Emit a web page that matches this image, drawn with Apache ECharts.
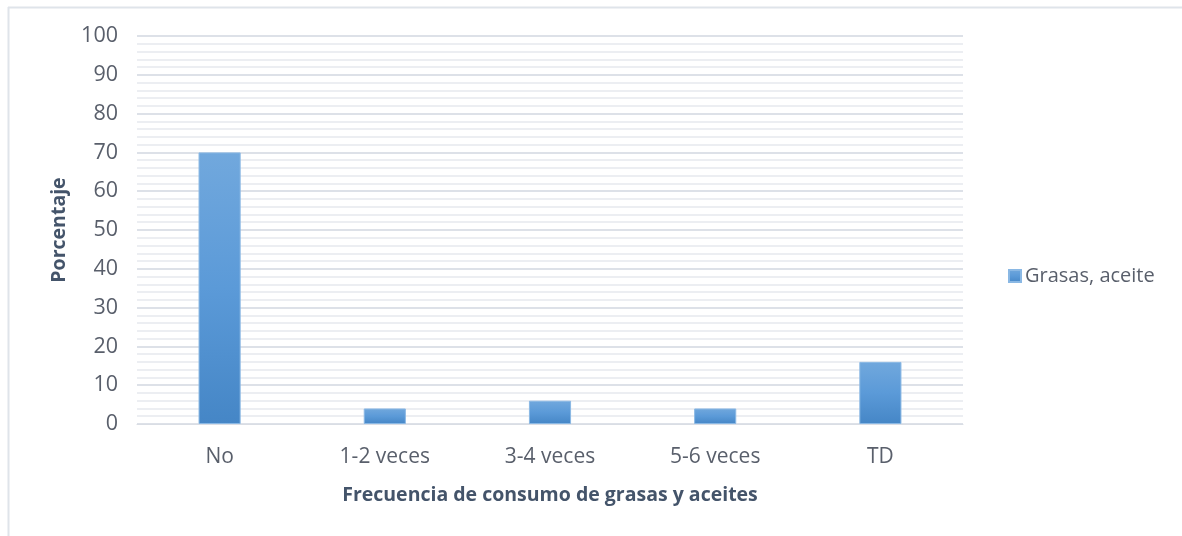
<!DOCTYPE html>
<html>
<head>
<meta charset="utf-8">
<script src="https://cdn.jsdelivr.net/npm/echarts@6/dist/echarts.min.js"></script>
<style>
  html, body { margin: 0; padding: 0; background: #ffffff; }
  #chart { width: 1182px; height: 536px; }
</style>
</head>
<body>
<div id="chart"></div>
<script>
// Frecuencia de consumo de grasas y aceites (porcentaje)
const categories = ['No', '1-2 veces', '3-4 veces', '5-6 veces', 'TD'];
const seriesName = 'Grasas, aceite';
const values = [70, 4, 6, 4, 16];
const yMin = 0, yMax = 100, yStep = 10;

const chart = echarts.init(document.getElementById('chart'), null, { renderer: 'canvas' });
const FONT = '"Open Sans", "Noto Sans", sans-serif';
const TEXT = '#595f6b';
const TITLE = '#44546a';

chart.setOption({
  animation: false,
  backgroundColor: '#ffffff',
  graphic: [
    { type: 'line', shape: { x1: 8, y1: 7.5, x2: 1182, y2: 7.5 }, style: { stroke: '#dfe4ea', lineWidth: 2 }, silent: true },
    { type: 'line', shape: { x1: 8.5, y1: 7, x2: 8.5, y2: 536 }, style: { stroke: '#dfe4ea', lineWidth: 2 }, silent: true }
  ],
  grid: { left: 137, right: 219, top: 36, bottom: 112, containLabel: false },
  legend: {
    data: [seriesName],
    orient: 'vertical',
    left: 1003,
    top: 261,
    icon: 'rect',
    itemWidth: 12,
    itemHeight: 12,
    itemGap: 6,
    textStyle: { fontFamily: FONT, fontSize: 20, color: TEXT, padding: [0, 0, 0, -1] }
  },
  xAxis: {
    type: 'category',
    data: categories,
    name: 'Frecuencia de consumo de grasas y aceites',
    nameLocation: 'middle',
    nameGap: 61,
    nameTextStyle: { fontFamily: FONT, fontSize: 19.5, fontWeight: 'bold', color: TITLE },
    axisLine: { show: true, lineStyle: { color: '#d9dde4', width: 1 } },
    axisTick: { show: false },
    axisLabel: { fontFamily: FONT, fontSize: 21, color: TEXT, margin: 23 },
    splitLine: { show: false }
  },
  yAxis: {
    type: 'value',
    min: yMin,
    max: yMax,
    interval: yStep,
    name: 'Porcentaje',
    nameLocation: 'middle',
    nameGap: 68,
    nameRotate: 90,
    nameTextStyle: { fontFamily: FONT, fontSize: 19.5, fontWeight: 'bold', color: TITLE },
    axisLine: { show: false },
    axisTick: { show: false },
    axisLabel: { fontFamily: FONT, fontSize: 21.5, color: TEXT, margin: 19 },
    splitLine: { show: true, lineStyle: { color: '#dde1e8', width: 2 } },
    minorTick: { show: false, splitNumber: 5 },
    minorSplitLine: { show: true, lineStyle: { color: '#eceef2', width: 2 } }
  },
  series: [{
    name: seriesName,
    type: 'bar',
    data: values,
    barWidth: '25.5%',
    itemStyle: {
      color: new echarts.graphic.LinearGradient(0, 0, 0, 1, [
        { offset: 0, color: '#71a8dd' },
        { offset: 0.5, color: '#5b9ad8' },
        { offset: 1, color: '#4586c6' }
      ]),
      borderColor: '#8ab8e4',
      borderWidth: 1
    }
  }]
});
</script>
</body>
</html>
